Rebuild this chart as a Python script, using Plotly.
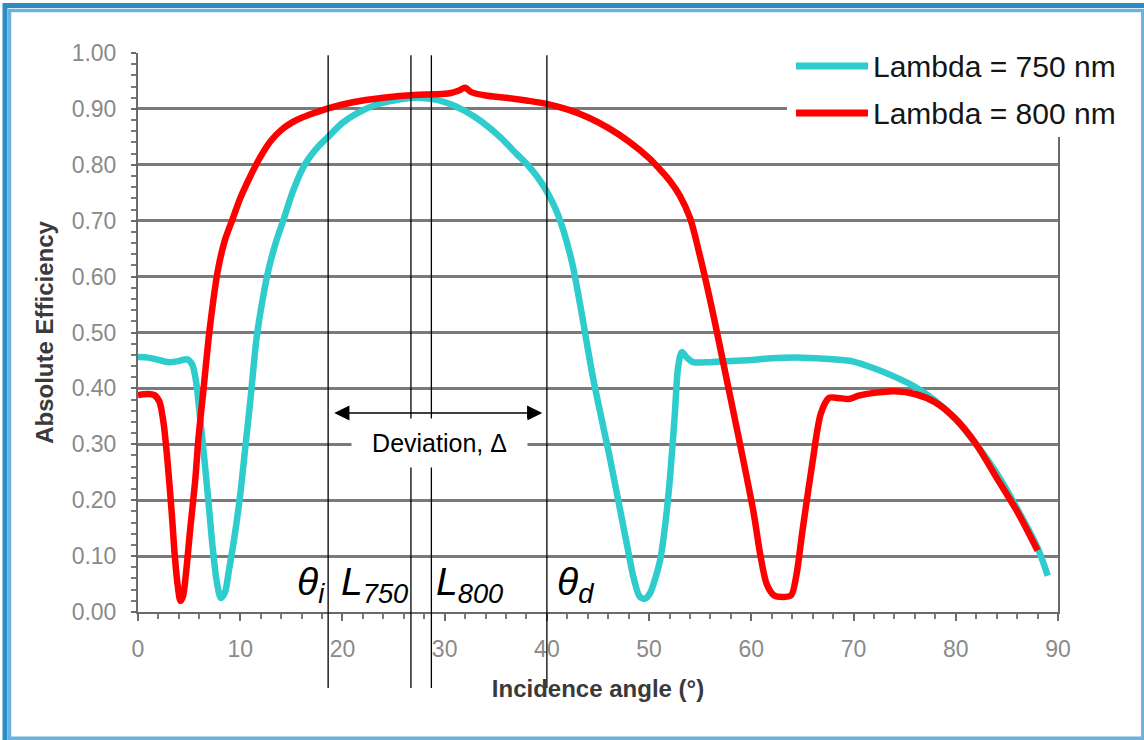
import plotly.graph_objects as go

# ---- data -------------------------------------------------------------
angle_750 = [0, 1, 2, 3, 4, 4.8, 5.3, 5.7, 6.0, 6.4, 6.85, 7.3, 7.7, 8.1, 8.5,
             8.9, 9.4, 10.0, 10.5, 11.0, 11.6, 12.2, 12.8, 13.5, 14.2, 15.2,
             16.3, 17.5, 18.6, 20, 21.5, 23.2, 25, 27, 29, 31, 33, 35.4, 37,
             38.1, 39.2, 40, 41.1, 42.4, 43.3, 44.5, 46.2, 47.8, 48.5, 49.1,
             49.6, 50.1, 50.6, 51.1, 51.6, 52.05, 52.5, 52.85, 53.2, 53.7, 54.3,
             56, 58, 60, 62, 65, 68, 70, 72, 74, 76, 78, 80, 82, 84, 86, 88, 89]
eff_750 = [0.456, 0.455, 0.451, 0.447, 0.449, 0.452, 0.443, 0.41, 0.36, 0.29,
           0.206, 0.116, 0.055, 0.025, 0.035, 0.075, 0.13, 0.21, 0.295, 0.38,
           0.49, 0.56, 0.615, 0.662, 0.70, 0.755, 0.80, 0.83, 0.85, 0.875,
           0.893, 0.907, 0.915, 0.92, 0.917, 0.905, 0.885, 0.85, 0.82, 0.80,
           0.775, 0.752, 0.71, 0.63, 0.545, 0.42, 0.272, 0.123, 0.06, 0.027,
           0.024, 0.034, 0.06, 0.095, 0.16, 0.242, 0.35, 0.44, 0.465, 0.455,
           0.447, 0.447, 0.449, 0.451, 0.454, 0.455, 0.452, 0.448, 0.436,
           0.421, 0.403, 0.378, 0.345, 0.30, 0.248, 0.185, 0.115, 0.065]

angle_800 = [0, 1, 1.6, 2.1, 2.5, 2.9, 3.3, 3.6, 3.9, 4.15, 4.4, 4.7, 5.1, 5.6,
             5.9, 6.4, 7.0, 7.8, 8.5, 9.2, 10.0, 11.0, 12.0, 13, 14.0, 15, 16.0,
             17.3, 18.6, 21, 24, 27, 29, 30.5, 31.4, 32, 32.6, 34, 36, 38, 40,
             42, 44, 46, 48, 50, 51, 52, 53, 54, 55, 56.3, 57.6, 58.9,
             60.2, 60.9, 61.5, 62.2, 63.2, 63.9, 64.4, 65, 66, 66.8, 67.6, 68.5,
             69.5, 70.5, 72, 74, 76, 78, 80, 82, 84, 86, 88]
eff_800 = [0.388, 0.39, 0.388, 0.376, 0.338, 0.267, 0.177, 0.1, 0.045, 0.02,
           0.028, 0.07, 0.147, 0.236, 0.308, 0.397, 0.504, 0.61, 0.665, 0.70,
           0.74, 0.78, 0.815, 0.843, 0.862, 0.875, 0.884, 0.893, 0.901, 0.912,
           0.92, 0.925, 0.926, 0.928, 0.933, 0.938, 0.93, 0.924, 0.92, 0.915,
           0.909, 0.899, 0.885, 0.866, 0.842, 0.812, 0.793, 0.772, 0.745,
           0.705, 0.635, 0.53, 0.415, 0.30, 0.18, 0.1, 0.05, 0.03, 0.027,
           0.03, 0.065, 0.145, 0.27, 0.355, 0.383, 0.383, 0.381, 0.387, 0.392,
           0.395, 0.39, 0.375, 0.345, 0.30, 0.24, 0.18, 0.11]

series_names = ["Lambda = 750 nm", "Lambda = 800 nm"]
series_colors = ["#2ECCCC", "#FF0000"]

# marker angles: incidence, Littrow 750, Littrow 800, diffraction
mark_angles = [18.6, 26.7, 28.7, 40.0]
mark_labels = ["<i>θ<sub>i</sub></i>", "<i>L<sub>750</sub></i>",
               "<i>L<sub>800</sub></i>", "<i>θ<sub>d</sub></i>"]
deviation_text = "Deviation, Δ"
deviation_level = 0.356

x_ticks = [0, 10, 20, 30, 40, 50, 60, 70, 80, 90]
y_ticks = [0.0, 0.1, 0.2, 0.3, 0.4, 0.5, 0.6, 0.7, 0.8, 0.9, 1.0]
light_grid = [0.3, 0.7]

X_RANGE = [0, 90]
Y_RANGE = [0, 1]

# ---- layout geometry --------------------------------------------------
W, H = 1144, 740
M_L, M_R, M_T, M_B = 138, 86, 53, 128
PW, PH = W - M_L - M_R, H - M_T - M_B
FONT = "Liberation Sans, Arial, sans-serif"


def px_x(p):
    return (p - M_L) / PW


def px_y(p):
    return (H - M_B - p) / PH


def data_to_paper_x(v):
    return (v - X_RANGE[0]) / (X_RANGE[1] - X_RANGE[0])


fig = go.Figure()

for xs, ys, name, col in [(angle_750, eff_750, series_names[0], series_colors[0]),
                          (angle_800, eff_800, series_names[1], series_colors[1])]:
    fig.add_trace(go.Scatter(
        x=xs, y=ys, name=name, mode="lines",
        line=dict(color=col, width=6.5, shape="spline", smoothing=0.8),
        showlegend=False,
    ))

shapes = []

# lighter grid rows
for v in light_grid:
    shapes.append(dict(type="line", xref="paper", yref="y", x0=0, x1=1,
                       y0=v, y1=v, layer="between",
                       line=dict(color="#b3b3b3", width=2.5)))

# vertical marker lines, running below the axis
for a in mark_angles:
    xp = data_to_paper_x(a)
    shapes.append(dict(type="line", xref="paper", yref="paper",
                       x0=xp, x1=xp, y0=px_y(688), y1=0.996, layer="above",
                       line=dict(color="black", width=1.3)))

# legend panel
shapes.append(dict(type="rect", xref="paper", yref="paper",
                   x0=px_x(787), x1=px_x(1136), y0=px_y(137), y1=px_y(40),
                   fillcolor="white", line=dict(width=0), layer="above"))
legend_rows = [66, 113]
for row, col in zip(legend_rows, series_colors):
    shapes.append(dict(type="line", xref="paper", yref="paper",
                       x0=px_x(796), x1=px_x(868), y0=px_y(row), y1=px_y(row),
                       layer="above", line=dict(color=col, width=7)))

# outer frame
shapes.append(dict(type="rect", xref="paper", yref="paper",
                   x0=px_x(5), x1=px_x(1152), y0=px_y(748), y1=px_y(5.5),
                   line=dict(color="#2B8CC4", width=5), fillcolor="rgba(0,0,0,0)"))
shapes.append(dict(type="rect", xref="paper", yref="paper",
                   x0=px_x(9.5), x1=px_x(1142.8), y0=px_y(738.2), y1=px_y(10.5),
                   line=dict(color="#6AB3DE", width=3.5), fillcolor="rgba(0,0,0,0)"))

annotations = []

for row, name in zip(legend_rows, series_names):
    annotations.append(dict(xref="paper", yref="paper", x=px_x(871), y=px_y(row),
                            xanchor="left", yanchor="middle", showarrow=False,
                            text=name, font=dict(family=FONT, size=30, color="#151515")))

# angle labels beside the marker lines
label_side = ["right", "right", "left", "left"]
label_shift = [-1, -1, 3, 8]
for a, t, side, sh in zip(mark_angles, mark_labels, label_side, label_shift):
    annotations.append(dict(xref="x", yref="y", x=a, y=0.05, xanchor=side,
                            yanchor="middle", xshift=sh, showarrow=False, text=t,
                            font=dict(family=FONT, size=39, color="black")))

# double-headed deviation arrow
annotations.append(dict(xref="x", yref="y", axref="x", ayref="y",
                        x=mark_angles[3] - 0.45, y=deviation_level,
                        ax=mark_angles[0] + 0.45, ay=deviation_level,
                        text="", showarrow=True, arrowside="end+start",
                        arrowhead=2, startarrowhead=2, arrowsize=1.9,
                        startarrowsize=1.9, arrowwidth=1.6, arrowcolor="black",
                        standoff=0, startstandoff=0))
annotations.append(dict(xref="x", yref="y",
                        x=(mark_angles[0] + mark_angles[3]) / 2 + 0.2, y=0.302,
                        showarrow=False, text=deviation_text, bgcolor="white",
                        width=173, height=46, borderpad=1,
                        font=dict(family=FONT, size=25, color="black")))

fig.update_layout(
    width=W, height=H,
    margin=dict(l=M_L, r=M_R, t=M_T, b=M_B, autoexpand=False),
    paper_bgcolor="white", plot_bgcolor="white",
    font=dict(family=FONT),
    shapes=shapes, annotations=annotations,
    showlegend=False,
    xaxis=dict(
        range=X_RANGE, tickvals=x_ticks, ticktext=[str(v) for v in x_ticks],
        showgrid=False, zeroline=False,
        showline=True, linecolor="#6a6a6a", linewidth=2,
        ticks="outside", ticklen=7, tickwidth=2, tickcolor="#6a6a6a",
        minor=dict(dtick=2, ticks="outside", ticklen=5, tickwidth=2,
                   tickcolor="#7a7a7a", showgrid=False),
        tickfont=dict(family=FONT, size=23, color="#8a8a8a"),
        ticklabelstandoff=8,
        title=dict(text="<b>Incidence angle (°)</b>", standoff=20,
                   font=dict(family=FONT, size=24, color="#3a3a3a")),
    ),
    yaxis=dict(
        range=Y_RANGE, tickvals=y_ticks, ticktext=[f"{v:.2f}" for v in y_ticks],
        showgrid=True, gridcolor="#7a7a7a", gridwidth=2.5, zeroline=False,
        showline=True, linecolor="#6a6a6a", linewidth=2, mirror=True,
        ticks="outside", ticklen=5, tickwidth=2, tickcolor="#6a6a6a",
        minor=dict(dtick=0.02, ticks="outside", ticklen=5, tickwidth=2,
                   tickcolor="#7a7a7a", showgrid=False),
        tickfont=dict(family=FONT, size=23, color="#8a8a8a"),
        ticklabelstandoff=10,
        title=dict(text="<b>Absolute Efficiency</b>", standoff=11,
                   font=dict(family=FONT, size=24, color="#3a3a3a")),
    ),
)

fig.write_html("out.html")
